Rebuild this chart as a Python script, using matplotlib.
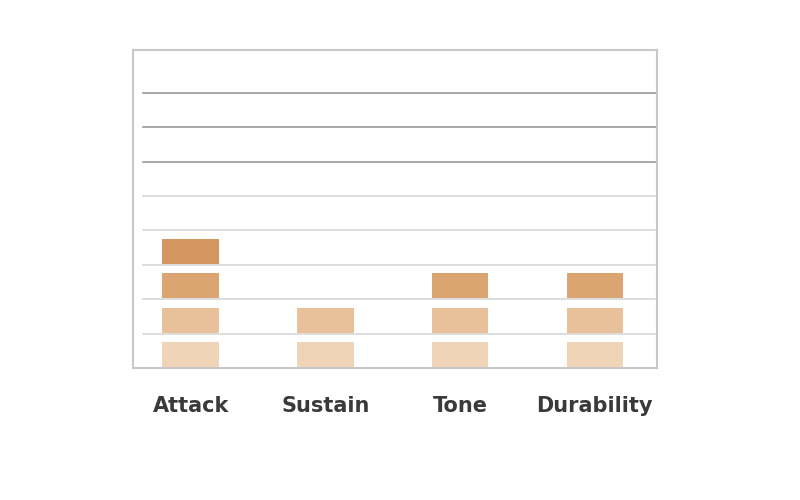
import matplotlib
matplotlib.use('Agg')
import matplotlib.pyplot as plt

# data
categories = ['Attack', 'Sustain', 'Tone', 'Durability']
levels = [4, 2, 3, 3]
seg_colors = ['#f0d4b8', '#e8c09a', '#dba572', '#d4965f']

fig = plt.figure(figsize=(8, 5), dpi=100)
ax = fig.add_axes([0.166, 0.264, 0.655, 0.636])

for i, n in enumerate(levels):
    for k in range(n):
        ax.bar(i, 0.72, bottom=k + 0.03, width=0.42, color=seg_colors[k], zorder=3)

# horizontal rules, upper ones darker, slightly indented from left spine
for y in range(1, 9):
    c = '#9a9a9a' if y >= 6 else '#d8d8d8'
    ax.axhline(y, xmin=0.02, color=c, lw=1.2, zorder=1)

ax.set_xlim(-0.43, 3.46)
ax.set_ylim(0, 9.25)
ax.set_yticks([])
ax.set_xticks(range(len(categories)))
ax.set_xticklabels(categories, fontsize=15, fontweight='bold', color='#3a3a3a')
ax.tick_params(axis='x', length=0, pad=20)
for s in ax.spines.values():
    s.set_color('#c8c8c8')
    s.set_linewidth(1.5)

fig.savefig('out.png', dpi=100)
